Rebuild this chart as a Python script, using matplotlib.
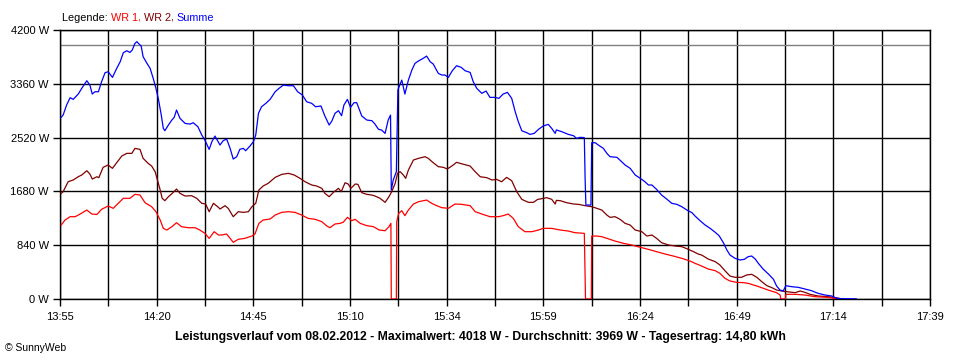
import matplotlib
matplotlib.use("Agg")
import matplotlib.pyplot as plt
import numpy as np

plt.rcParams['font.family'] = ['Liberation Sans', 'DejaVu Sans']

# ---- data -------------------------------------------------------------
# time axis: minutes after 13:55, full axis span 13:55 .. 17:39
x_labels = ["13:55", "14:20", "14:45", "15:10", "15:34",
            "15:59", "16:24", "16:49", "17:14", "17:39"]
span_minutes = 224
y_ticks = [0, 840, 1680, 2520, 3360, 4200]
average_w = 3969

sum_t = [0.3, 0.8, 1.7, 2.6, 3.4, 4.7, 5.6, 6.9, 7.7, 8.3,
         9.0, 9.9, 10.7, 11.6, 12.4, 13.5, 14.6, 15.5, 16.3, 17.2,
         18.0, 18.6, 19.3, 19.8, 20.2, 20.9, 21.4, 22.3, 23.2, 24.0,
         24.7, 25.3, 26.0, 26.6, 27.0, 27.9, 28.8, 29.4, 30.0, 30.9,
         32.2, 33.5, 34.3, 35.5, 36.5, 37.3, 38.4, 39.1, 39.9, 41.2,
         42.0, 42.9, 43.8, 44.6, 45.5, 46.3, 47.2, 47.8, 48.9, 49.8,
         50.4, 51.1, 51.9, 53.0, 54.1, 55.4, 56.4, 57.5, 58.8, 60.1,
         61.2, 62.4, 63.5, 64.8, 65.8, 67.2, 68.2, 69.3, 70.0, 70.8,
         71.7, 72.5, 73.1, 74.0, 74.8, 75.7, 76.4, 77.7, 79.0, 80.3,
         81.1, 82.0, 82.8, 83.7, 84.5, 85.1, 85.3, 85.8, 86.6, 87.0,
         87.3, 88.0, 88.8, 89.7, 90.6, 91.4, 92.4, 93.5, 94.4, 95.3,
         96.1, 96.7, 97.4, 98.3, 99.1, 100.0, 101.0, 102.1, 103.3, 104.3,
         105.6, 106.4, 107.3, 108.6, 109.7, 110.7, 112.0, 113.0, 114.1, 115.2,
         116.3, 117.2, 118.0, 118.9, 120.2, 121.0, 122.1, 123.2, 124.4, 125.7,
         126.6, 127.5, 127.8, 129.2, 130.9, 132.2, 133.0, 133.9, 135.0, 135.2,
         135.4, 136.7, 136.9, 137.8, 138.6, 139.9, 140.8, 141.6, 143.4, 144.6,
         145.5, 146.8, 148.1, 149.4, 150.6, 151.5, 152.4, 153.6, 154.9, 156.2,
         157.5, 158.8, 160.1, 161.4, 162.7, 163.5, 164.8, 166.1, 167.4, 168.7,
         169.7, 170.8, 171.7, 172.5, 173.8, 175.1, 176.2, 177.2, 178.1, 179.0,
         179.8, 181.1, 182.4, 183.7, 184.5, 185.4, 186.2, 186.9, 188.4, 190.1,
         191.8, 193.5, 195.2, 197.0, 198.7, 200.0, 201.3, 203.9, 205.0]
sum_w = [2836, 2872, 3028, 3143, 3117, 3200, 3289, 3408, 3340, 3200,
         3236, 3236, 3392, 3533, 3549, 3460, 3601, 3705, 3845, 3876,
         3850, 3887, 3991, 4018, 3991, 3949, 3783, 3689, 3601, 3445,
         3289, 3133, 2898, 2664, 2627, 2716, 2794, 2836, 2950, 2820,
         2742, 2731, 2752, 2690, 2560, 2482, 2336, 2456, 2544, 2404,
         2471, 2498, 2352, 2185, 2222, 2337, 2352, 2315, 2388, 2456,
         2560, 2899, 3002, 3055, 3117, 3236, 3289, 3340, 3330, 3330,
         3236, 3185, 3080, 3055, 3002, 3013, 2857, 2716, 2779, 2899,
         2940, 2862, 3028, 3117, 2992, 3065, 3065, 2857, 2794, 2784,
         2731, 2649, 2638, 2586, 2794, 2872, 1701, 1858, 1987, 3263,
         3314, 3418, 3200, 3418, 3575, 3679, 3720, 3757, 3793, 3705,
         3668, 3601, 3523, 3497, 3497, 3460, 3564, 3642, 3617, 3564,
         3538, 3392, 3289, 3211, 3247, 3148, 3148, 3133, 3200, 3226,
         3133, 2924, 2768, 2627, 2596, 2570, 2586, 2649, 2701, 2727,
         2664, 2586, 2640, 2612, 2570, 2550, 2508, 2524, 2520, 1884,
         1467, 1467, 2440, 2440, 2404, 2352, 2274, 2222, 2212, 2144,
         2092, 2040, 1936, 1884, 1831, 1780, 1780, 1712, 1623, 1561,
         1494, 1478, 1441, 1389, 1348, 1296, 1223, 1155, 1103, 1041,
         988, 879, 765, 687, 635, 609, 620, 661, 671, 624,
         557, 463, 390, 307, 203, 140, 125, 208, 192, 182,
         156, 130, 88, 62, 47, 11, 5, 3, 3]

wr2_t = [0.3, 0.8, 2.1, 3.4, 4.7, 5.6, 6.9, 7.7, 8.3, 9.5,
         10.0, 11.1, 12.4, 13.5, 14.6, 15.9, 17.2, 18.5, 19.3, 20.6,
         21.4, 22.7, 23.6, 24.5, 25.2, 25.8, 26.3, 27.0, 27.9, 28.9,
         30.0, 30.9, 32.2, 33.9, 35.2, 36.5, 37.5, 38.4, 39.5, 40.8,
         41.2, 42.5, 43.3, 44.6, 45.9, 47.2, 48.5, 49.4, 50.4, 51.2,
         52.3, 53.6, 55.4, 57.1, 58.8, 60.3, 61.8, 63.1, 64.8, 66.1,
         67.4, 68.2, 69.3, 70.4, 71.7, 72.4, 73.4, 74.2, 74.9, 76.0,
         76.7, 77.7, 79.0, 80.3, 81.1, 82.4, 83.7, 84.7, 85.4, 86.3,
         86.9, 87.6, 88.4, 89.0, 89.7, 91.0, 92.3, 94.0, 94.8, 96.1,
         97.4, 98.7, 99.7, 101.0, 102.1, 103.6, 105.6, 106.9, 108.2, 109.9,
         111.2, 112.4, 113.7, 115.0, 116.3, 117.6, 118.9, 120.6, 121.9, 123.0,
         123.6, 125.3, 126.6, 127.5, 127.8, 128.8, 130.5, 132.2, 133.5, 135.2,
         136.9, 138.2, 139.5, 140.8, 141.6, 142.9, 144.2, 145.5, 146.8, 148.1,
         149.8, 151.1, 152.4, 153.6, 154.9, 156.7, 158.4, 160.1, 161.8, 163.1,
         164.4, 165.2, 166.9, 168.7, 169.9, 171.2, 172.5, 173.8, 175.5, 176.8,
         178.1, 179.4, 180.7, 182.0, 183.3, 184.5, 185.8, 187.1, 189.3, 190.6,
         191.8, 193.1, 195.2, 197.8, 199.6, 201.3]
wr2_w = [1650, 1675, 1831, 1858, 1909, 1936, 2003, 1951, 1873, 1909,
         1894, 2056, 2092, 2040, 2128, 2232, 2274, 2274, 2352, 2336,
         2196, 2118, 2076, 1987, 1831, 1701, 1572, 1535, 1597, 1649,
         1717, 1649, 1608, 1613, 1572, 1494, 1483, 1363, 1494, 1431,
         1405, 1457, 1416, 1285, 1363, 1353, 1363, 1441, 1494, 1701,
         1764, 1806, 1899, 1946, 1962, 1936, 1884, 1831, 1780, 1764,
         1728, 1650, 1597, 1665, 1728, 1675, 1815, 1795, 1728, 1795,
         1790, 1660, 1634, 1623, 1608, 1572, 1509, 1597, 1675, 1806,
         1962, 1987, 1936, 1884, 2014, 2170, 2196, 2222, 2196, 2128,
         2066, 2056, 2030, 2081, 2134, 2108, 2076, 1987, 1909, 1894,
         1858, 1868, 1831, 1899, 1847, 1675, 1556, 1509, 1509, 1556,
         1561, 1582, 1556, 1483, 1540, 1535, 1503, 1483, 1478, 1457,
         1441, 1416, 1389, 1311, 1275, 1285, 1244, 1181, 1155, 1077,
         1051, 983, 999, 947, 879, 843, 827, 817, 775, 739,
         700, 687, 624, 583, 531, 442, 359, 339, 339, 375,
         385, 339, 270, 208, 177, 140, 125, 114, 99, 125,
         104, 73, 47, 36, 21, 3]

wr1_t = [0.3, 1.3, 2.6, 3.9, 5.2, 6.9, 8.2, 9.5, 10.7, 12.4,
         13.7, 15.0, 16.3, 18.0, 19.3, 20.6, 21.9, 23.6, 24.7, 25.8,
         26.6, 27.5, 28.8, 30.0, 31.3, 33.0, 34.8, 36.0, 37.3, 38.4,
         39.7, 40.8, 41.6, 42.9, 44.6, 45.9, 47.6, 49.4, 50.2, 51.2,
         52.3, 54.1, 55.4, 57.1, 58.8, 60.5, 62.2, 63.9, 65.7, 67.4,
         68.7, 69.5, 70.8, 72.1, 72.9, 74.0, 75.1, 76.0, 77.3, 79.0,
         80.7, 82.2, 83.7, 84.7, 85.2, 85.3, 86.6, 86.7, 87.2, 88.0,
         88.8, 89.7, 91.0, 92.3, 94.4, 95.7, 97.0, 98.3, 100.0, 101.7,
         103.4, 105.6, 106.9, 108.6, 110.7, 112.9, 114.1, 115.4, 116.7, 118.0,
         119.7, 121.5, 123.2, 124.4, 126.6, 128.8, 130.9, 132.6, 135.0, 135.3,
         136.8, 136.9, 138.2, 139.5, 140.8, 142.9, 145.1, 147.2, 149.4, 151.5,
         153.6, 155.8, 157.9, 160.1, 162.2, 163.5, 165.2, 166.9, 168.7, 169.9,
         171.2, 172.5, 174.2, 176.0, 177.2, 179.4, 181.1, 182.8, 184.5, 185.4,
         185.6, 186.8, 186.9, 189.3, 191.8, 194.4, 197.8, 200.0, 201.3]
wr1_w = [1155, 1233, 1285, 1285, 1327, 1389, 1327, 1320, 1400, 1452,
         1416, 1494, 1572, 1572, 1634, 1623, 1503, 1441, 1363, 1233,
         1103, 1077, 1129, 1191, 1129, 1113, 1113, 1077, 1025, 947,
         1051, 999, 999, 1015, 885, 932, 947, 983, 1015, 1181,
         1233, 1249, 1311, 1353, 1363, 1353, 1311, 1259, 1244, 1207,
         1140, 1113, 1171, 1181, 1197, 1275, 1223, 1244, 1181, 1145,
         1129, 1077, 1066, 1129, 1181, 0, 0, 1207, 1337, 1379,
         1301, 1389, 1483, 1519, 1545, 1494, 1457, 1426, 1416, 1483,
         1478, 1457, 1363, 1327, 1285, 1285, 1301, 1327, 1259, 1129,
         1051, 1051, 1077, 1103, 1103, 1077, 1061, 1035, 1025, 0,
         0, 983, 983, 973, 947, 905, 869, 843, 807, 775,
         739, 702, 671, 635, 593, 557, 515, 468, 442, 401,
         323, 281, 260, 255, 244, 203, 166, 130, 99, 62,
         0, 0, 73, 73, 62, 36, 26, 3, 3]

assert len(sum_t) == len(sum_w)
assert len(wr1_t) == len(wr1_w)
assert len(wr2_t) == len(wr2_w)

title = ("Leistungsverlauf vom 08.02.2012 - Maximalwert: 4018 W - "
         "Durchschnitt: 3969 W - Tagesertrag: 14,80 kWh")

# ---- figure -------------------------------------------------------------
W, H = 960, 360
fig = plt.figure(figsize=(W / 100, H / 100), dpi=100)
fig.patch.set_facecolor("white")
ax = fig.add_axes([60 / W, 1 - 299 / H, 870 / W, 269 / H])
ax.set_facecolor("white")
ax.set_xlim(0, span_minutes)
ax.set_ylim(0, 4200)

major = np.linspace(0, span_minutes, len(x_labels))
minor = np.linspace(0, span_minutes, 2 * len(x_labels) - 1)
ax.set_xticks(major)
ax.set_xticklabels(x_labels)
ax.set_xticks(minor, minor=True)
ax.set_yticks(y_ticks)
ax.set_yticklabels([f"{v} W" for v in y_ticks])
ax.tick_params(axis="both", which="both", direction="out", length=5,
               width=1, color="black", labelsize=8, labelcolor="black")
ax.tick_params(axis="x", which="major", pad=4)
ax.tick_params(axis="y", which="major", pad=3)

for xv in minor:
    ax.axvline(xv, color="black", lw=1.0, zorder=1)
for yv in y_ticks:
    ax.axhline(yv, color="black", lw=1.0, zorder=1)
ax.axhline(average_w, color="#808080", lw=1.0, zorder=1.5)
for s in ax.spines.values():
    s.set_color("black")
    s.set_linewidth(1.0)

ax.plot(wr2_t, wr2_w, color="#800000", lw=0.9, zorder=3)
ax.plot(wr1_t, wr1_w, color="#ff0000", lw=0.9, zorder=3.5)
ax.plot(sum_t, sum_w, color="#0000ff", lw=0.9, zorder=4)

# legend line at top-left
parts = [("Legende: ", "black"), ("WR 1", "#ff0000"), (", ", "#ff0000"),
         ("WR 2", "#800000"), (", ", "#800000"), ("Summe", "#0000ff")]
prev = fig.text(62 / W, 1 - 21 / H, parts[0][0], color=parts[0][1],
                fontsize=7.8, ha="left", va="baseline")
for txt, col in parts[1:]:
    prev = ax.annotate(txt, xy=(1, 0), xycoords=prev, color=col,
                       fontsize=7.8, ha="left", va="bottom",
                       annotation_clip=False)

fig.text(480 / W, 1 - 337 / H, title, ha="center", va="center",
         fontsize=8.8, fontweight="bold", color="black")
fig.text(5 / W, 1 - 348 / H, "© SunnyWeb", ha="left", va="center",
         fontsize=7.5, color="black")

fig.savefig("out.png", dpi=100, facecolor="white")
